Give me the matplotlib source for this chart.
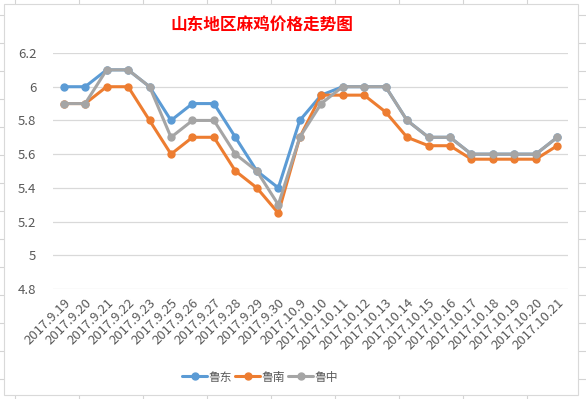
import matplotlib.pyplot as plt
import matplotlib.patches as patches

plt.rcParams["font.family"] = ["Noto Sans CJK SC", "DejaVu Sans"]

dates = [
    "2017.9.19", "2017.9.20", "2017.9.21", "2017.9.22", "2017.9.23",
    "2017.9.25", "2017.9.26", "2017.9.27", "2017.9.28", "2017.9.29",
    "2017.9.30", "2017.10.9", "2017.10.10", "2017.10.11", "2017.10.12",
    "2017.10.13", "2017.10.14", "2017.10.15", "2017.10.16", "2017.10.17",
    "2017.10.18", "2017.10.19", "2017.10.20", "2017.10.21",
]
lu_dong = [6.0, 6.0, 6.1, 6.1, 6.0, 5.8, 5.9, 5.9, 5.7, 5.5, 5.4, 5.8,
           5.95, 6.0, 6.0, 6.0, 5.8, 5.7, 5.7, 5.6, 5.6, 5.6, 5.6, 5.7]
lu_nan = [5.9, 5.9, 6.0, 6.0, 5.8, 5.6, 5.7, 5.7, 5.5, 5.4, 5.25, 5.7,
          5.95, 5.95, 5.95, 5.85, 5.7, 5.65, 5.65, 5.57, 5.57, 5.57, 5.57, 5.65]
lu_zhong = [5.9, 5.9, 6.1, 6.1, 6.0, 5.7, 5.8, 5.8, 5.6, 5.5, 5.3, 5.7,
            5.9, 6.0, 6.0, 6.0, 5.8, 5.7, 5.7, 5.6, 5.6, 5.6, 5.6, 5.7]
y_ticks = [4.8, 5, 5.2, 5.4, 5.6, 5.8, 6, 6.2]

W, H = 586, 399
fig = plt.figure(figsize=(W / 100, H / 100), dpi=100)

# spreadsheet grid behind the chart
for x in range(15, W, 64):
    fig.add_artist(plt.Line2D([x / W, x / W], [0, 1], color="#d4d4d4",
                              lw=0.8, zorder=0))
for y in range(15, H, 28):
    fig.add_artist(plt.Line2D([0, 1], [1 - y / H, 1 - y / H], color="#d4d4d4",
                              lw=0.8, zorder=0))

frame = patches.Rectangle((4 / W, 1 - 395 / H), 574 / W, 391 / H,
                          transform=fig.transFigure, facecolor="white",
                          edgecolor="#d9d9d9", lw=0.8, zorder=1)
fig.add_artist(frame)

ax = fig.add_axes([53 / W, 1 - 289 / H, 515 / W, 236 / H])
ax.set_zorder(2)
ax.patch.set_alpha(0)

x = range(len(dates))
series = [("鲁东", lu_dong, "#5B9BD5"),
          ("鲁南", lu_nan, "#ED7D31"),
          ("鲁中", lu_zhong, "#A5A5A5")]
for name, vals, color in series:
    ax.plot(x, vals, color=color, lw=2.2, marker="o", markersize=5,
            label=name, solid_capstyle="round")

ax.set_xlim(-0.5, len(dates) - 0.5)
ax.set_ylim(4.8, 6.2)
ax.set_yticks(y_ticks)
ax.set_yticklabels([f"{v:g}" for v in y_ticks])
ax.set_xticks(list(x))
ax.set_xticklabels(dates, rotation=45, ha="right", rotation_mode="anchor")
ax.tick_params(axis="both", length=0, colors="#595959")
ax.tick_params(axis="x", labelsize=9.5, pad=5)
ax.tick_params(axis="y", labelsize=9.5, pad=12)
ax.grid(axis="y", color="#d9d9d9", lw=0.9)
ax.set_axisbelow(True)
for s in ax.spines.values():
    s.set_visible(False)

fig.text(262 / W, 1 - 25 / H, "山东地区麻鸡价格走势图", color="#ff0000",
         fontsize=12, fontweight="bold", ha="center", va="center", zorder=3)

leg = fig.legend(loc="center", bbox_to_anchor=(260 / W, 1 - 377 / H), ncol=3,
                 frameon=False, fontsize=8.5, handlelength=2.1,
                 columnspacing=0.3, handletextpad=0.1)
for t in leg.get_texts():
    t.set_color("#595959")

fig.savefig("out.png", dpi=100)
